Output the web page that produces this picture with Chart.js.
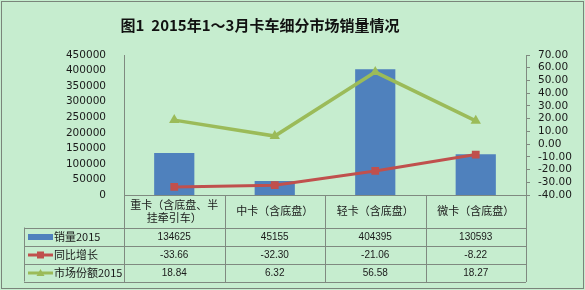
<!DOCTYPE html>
<html>
<head>
<meta charset="utf-8">
<script src="https://cdn.jsdelivr.net/npm/chart.js@4.4.1/dist/chart.umd.min.js"></script>
<style>
  html, body { margin: 0; padding: 0; background: #c6edcf; }
  #chart { display: block; }
</style>
</head>
<body>
<canvas id="chart" width="585" height="290"></canvas>
<script>
// Data
const categories = [
  ['重卡（含底盘、半', '挂牵引车）'],
  ['中卡（含底盘）'],
  ['轻卡（含底盘）'],
  ['微卡（含底盘）']
];
const seriesNames = ['销量2015', '同比增长', '市场份额2015'];
const sales2015 = [134625, 45155, 404395, 130593];
const yoyGrowth = [-33.66, -32.30, -21.06, -8.22];
const marketShare = [18.84, 6.32, 56.58, 18.27];
const salesAxis = { min: 0, max: 450000, step: 50000 };
const percentAxis = { min: -40, max: 70, step: 10 };
const chartTitle = '图1  2015年1～3月卡车细分市场销量情况';

const BG = '#c6edcf';
const LINE = '#7f8a80';
const TEXT = '#1a1a1a';
const BLUE = '#4f81bd';
const RED = '#c0504d';
const GREEN = '#9bbb59';
const CJK_FONT = '11px "Noto Sans CJK SC"';
const NUM_FONT = '10px "Liberation Sans"';

// background, frame and title
const framePlugin = {
  id: 'frame',
  beforeDraw(chart) {
    const ctx = chart.ctx;
    ctx.save();
    ctx.fillStyle = BG;
    ctx.fillRect(0, 0, chart.width, chart.height);
    ctx.strokeStyle = '#7a857b';
    ctx.lineWidth = 1;
    ctx.strokeRect(1.5, 1.5, chart.width - 3, chart.height - 3);
    ctx.fillStyle = '#111';
    ctx.font = 'bold 15px "Noto Sans CJK SC"';
    ctx.textAlign = 'center';
    ctx.textBaseline = 'middle';
    ctx.fillText(chartTitle, 260, 25);
    ctx.restore();
  }
};

function drawKey(ctx, type, x1, x2, y) {
  ctx.save();
  if (type === 0) {
    ctx.fillStyle = BLUE;
    ctx.fillRect(x1, y - 3, x2 - x1, 6);
  } else {
    const color = type === 1 ? RED : GREEN;
    const cx = (x1 + x2) / 2;
    ctx.strokeStyle = color;
    ctx.lineWidth = 3;
    ctx.beginPath();
    ctx.moveTo(x1, y);
    ctx.lineTo(x2, y);
    ctx.stroke();
    ctx.fillStyle = color;
    if (type === 1) {
      ctx.fillRect(cx - 3.5, y - 3.5, 7, 7);
    } else {
      ctx.beginPath();
      ctx.moveTo(cx, y - 4);
      ctx.lineTo(cx + 4, y + 3);
      ctx.lineTo(cx - 4, y + 3);
      ctx.closePath();
      ctx.fill();
    }
  }
  ctx.restore();
}

// data table under the plot, aligned with the category scale
const tablePlugin = {
  id: 'dataTable',
  afterDraw(chart) {
    const ctx = chart.ctx;
    const area = chart.chartArea;
    const n = categories.length;
    const colW = (area.right - area.left) / n;
    const left = 24;
    const headTop = area.bottom;
    const headBottom = 227.5;
    const rowH = 18;
    const rows = [
      sales2015.map(v => String(v)),
      yoyGrowth.map(v => v.toFixed(2)),
      marketShare.map(v => v.toFixed(2))
    ];
    const tableBottom = headBottom + rowH * rows.length;

    ctx.save();
    ctx.strokeStyle = LINE;
    ctx.lineWidth = 1;
    ctx.beginPath();
    // horizontal lines
    ctx.moveTo(area.left, Math.round(headTop) + 0.5);
    ctx.lineTo(area.right, Math.round(headTop) + 0.5);
    for (let r = 0; r <= rows.length; r++) {
      const y = Math.round(headBottom + r * rowH) + 0.5;
      ctx.moveTo(left, y);
      ctx.lineTo(area.right, y);
    }
    // vertical lines
    ctx.moveTo(left + 0.5, headBottom);
    ctx.lineTo(left + 0.5, tableBottom);
    for (let i = 0; i <= n; i++) {
      const x = Math.round(area.left + i * colW) + 0.5;
      ctx.moveTo(x, headTop);
      ctx.lineTo(x, tableBottom + 0.5);
    }
    ctx.stroke();

    ctx.fillStyle = TEXT;
    ctx.textAlign = 'center';
    ctx.textBaseline = 'middle';
    // category header
    ctx.font = CJK_FONT;
    const xScale = chart.scales.x;
    categories.forEach((lines, i) => {
      const cx = xScale.getPixelForValue(i);
      const midY = (headTop + headBottom) / 2;
      lines.forEach((t, k) => {
        ctx.fillText(t, cx, midY + (k - (lines.length - 1) / 2) * 13);
      });
    });
    // value rows
    rows.forEach((vals, r) => {
      const cy = headBottom + r * rowH + rowH / 2 + 0.5;
      ctx.textAlign = 'center';
      ctx.font = NUM_FONT;
      vals.forEach((v, i) => {
        ctx.fillText(v, xScale.getPixelForValue(i), cy);
      });
      // legend key + series name
      drawKey(ctx, r, 28, 53, cy);
      ctx.textAlign = 'left';
      ctx.font = CJK_FONT;
      ctx.fillText(seriesNames[r], 54, cy);
    });
    ctx.restore();
  }
};

new Chart(document.getElementById('chart'), {
  data: {
    labels: categories,
    datasets: [
      {
        type: 'line',
        label: seriesNames[1],
        data: yoyGrowth,
        yAxisID: 'y2',
        borderColor: RED,
        backgroundColor: RED,
        borderWidth: 3,
        pointStyle: 'rect',
        pointRadius: 5.5,
        pointBorderWidth: 0,
        order: 1
      },
      {
        type: 'line',
        label: seriesNames[2],
        data: marketShare,
        yAxisID: 'y2',
        borderColor: GREEN,
        backgroundColor: GREEN,
        borderWidth: 3.5,
        pointStyle: 'triangle',
        pointRadius: 6,
        pointBorderWidth: 0,
        order: 2
      },
      {
        type: 'bar',
        label: seriesNames[0],
        data: sales2015,
        yAxisID: 'y',
        backgroundColor: BLUE,
        barPercentage: 0.4,
        categoryPercentage: 1,
        order: 3
      }
    ]
  },
  options: {
    responsive: false,
    animation: false,
    devicePixelRatio: 1,
    layout: { padding: { top: 55, bottom: 95, left: 0, right: 0 } },
    plugins: {
      legend: { display: false },
      title: { display: false },
      tooltip: { enabled: false }
    },
    scales: {
      x: {
        type: 'category',
        display: false,
        offset: true
      },
      y: {
        position: 'left',
        min: salesAxis.min,
        max: salesAxis.max,
        grid: { display: false },
        border: { display: true, color: LINE, width: 1 },
        ticks: {
          stepSize: salesAxis.step,
          autoSkip: false,
          padding: 10,
          color: TEXT,
          font: { family: 'DejaVu Sans', size: 10.5 },
          callback: v => String(v)
        },
        afterFit(scale) { scale.width = 124; }
      },
      y2: {
        position: 'right',
        min: percentAxis.min,
        max: percentAxis.max,
        grid: { drawOnChartArea: false, drawTicks: true, tickLength: 4, color: LINE },
        border: { display: true, color: LINE, width: 1 },
        ticks: {
          stepSize: percentAxis.step,
          autoSkip: false,
          padding: 8,
          color: TEXT,
          font: { family: 'DejaVu Sans', size: 10.5 },
          callback: v => Number(v).toFixed(2)
        },
        afterFit(scale) { scale.width = 59; }
      }
    }
  },
  plugins: [framePlugin, tablePlugin]
});
</script>
</body>
</html>
